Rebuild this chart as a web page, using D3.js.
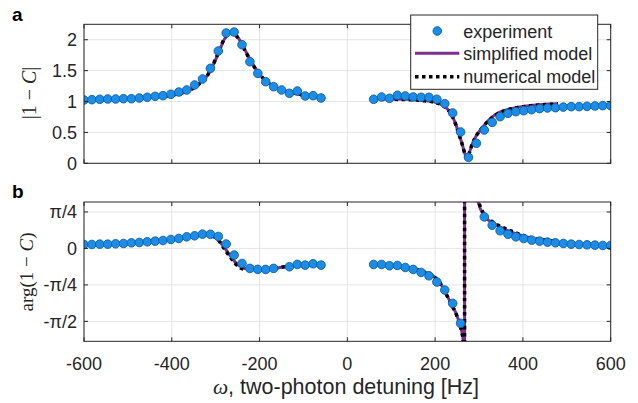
<!DOCTYPE html>
<html>
<head>
<meta charset="utf-8">
<script src="https://cdn.jsdelivr.net/npm/d3@7"></script>
<style>
  body { margin: 0; background: #fff; }
  svg { display: block; }
  text { font-family: "Liberation Sans", Arial, sans-serif; fill: #262626; }
</style>
</head>
<body>
<div id="main"></div>
<script>
// measured detunings (Hz)
const freqLeft = [-600, -582, -564, -546, -528, -510, -492, -474, -456, -438, -420, -402, -384, -366, -348, -330,
  -312, -294, -276, -258, -240, -222, -204, -186, -168, -150, -132, -114, -96, -78, -60];
const freqRight = [60, 78, 96, 114, 132, 150, 168, 186, 204, 222, 240, 258, 276, 294, 312, 330,
  348, 366, 384, 402, 420, 438, 456, 474, 492, 510, 528, 546, 564, 582, 600];

// |1 - C| experiment
const absLeft = [1.025, 1.030, 1.036, 1.041, 1.041, 1.046, 1.046, 1.057, 1.068, 1.084, 1.095, 1.117, 1.154, 1.187, 1.268, 1.365,
  1.537, 1.818, 2.109, 2.125, 1.920, 1.645, 1.456, 1.321, 1.240, 1.187, 1.133, 1.170, 1.090, 1.095, 1.057];
const absRight = [1.036, 1.073, 1.052, 1.100, 1.090, 1.073, 1.068, 1.068, 1.036, 0.965, 0.814, 0.507, 0.097, 0.324, 0.539, 0.663,
  0.755, 0.809, 0.836, 0.852, 0.868, 0.885, 0.895, 0.900, 0.910, 0.917, 0.917, 0.922, 0.928, 0.933, 0.933];

// arg(1 - C) experiment (rad), null = outside the plotted range
const argLeft = [0.085, 0.085, 0.092, 0.092, 0.100, 0.107, 0.121, 0.128, 0.143, 0.157, 0.171, 0.193, 0.214, 0.250, 0.272, 0.308,
  0.305, 0.258, 0.095, -0.144, -0.323, -0.430, -0.452, -0.452, -0.430, null, -0.395, -0.344, -0.359, -0.330, -0.359];
const argRight = [-0.345, -0.345, -0.373, -0.366, -0.410, -0.452, -0.517, -0.589, -0.724, -0.896, -1.183, -1.613, null, null, 0.680, 0.500,
  0.380, 0.307, 0.250, 0.214, 0.179, 0.157, 0.136, 0.121, 0.107, 0.092, 0.085, 0.078, 0.071, 0.064, 0.064];

// model curves
const modAbsFreqL = [-480, -440, -400, -370, -340, -320, -300, -290, -280, -270, -262, -255, -245, -235, -220, -200, -180, -160, -140, -120, -100, -80, -60];
const simpleAbsL = [1.06, 1.075, 1.10, 1.15, 1.27, 1.41, 1.68, 1.85, 2.01, 2.10, 2.12, 2.09, 1.99, 1.86, 1.66, 1.44, 1.30, 1.22, 1.16, 1.13, 1.10, 1.08, 1.07];
const numericAbsL = [1.06, 1.075, 1.10, 1.15, 1.27, 1.41, 1.69, 1.86, 2.02, 2.10, 2.12, 2.08, 1.98, 1.85, 1.65, 1.44, 1.30, 1.22, 1.165, 1.135, 1.105, 1.085, 1.075];
const modAbsFreqR = [60, 100, 140, 170, 200, 215, 228, 238, 246, 254, 262, 268, 272, 276, 282, 290, 300, 310, 325, 345, 370, 400, 430, 460, 480];
const simpleAbsR = [1.04, 1.04, 1.035, 1.02, 0.99, 0.95, 0.88, 0.78, 0.65, 0.48, 0.30, 0.15, 0.08, 0.13, 0.26, 0.40, 0.51, 0.60, 0.72, 0.82, 0.88, 0.92, 0.945, 0.96, 0.965];
const numericAbsR = [1.035, 1.035, 1.03, 1.015, 0.985, 0.945, 0.875, 0.775, 0.645, 0.475, 0.30, 0.15, 0.08, 0.13, 0.26, 0.40, 0.51, 0.60, 0.71, 0.81, 0.875, 0.915, 0.94, 0.955, 0.96];

const modArgFreqL = [-480, -440, -400, -370, -340, -320, -305, -295, -285, -275, -265, -255, -245, -235, -220, -200, -180, -160, -140, -120, -100, -80, -60];
const simpleArgL = [0.14, 0.165, 0.19, 0.23, 0.28, 0.30, 0.27, 0.20, 0.08, -0.05, -0.18, -0.30, -0.38, -0.43, -0.45, -0.46, -0.45, -0.42, -0.39, -0.37, -0.355, -0.35, -0.35];
const numericArgL = [0.14, 0.165, 0.19, 0.23, 0.28, 0.30, 0.26, 0.19, 0.06, -0.08, -0.21, -0.33, -0.41, -0.45, -0.46, -0.46, -0.45, -0.42, -0.39, -0.37, -0.355, -0.35, -0.35];
const modArgFreqR = [60, 100, 140, 170, 190, 210, 226, 240, 249, 256, 261, 264, 266, 267, 267.2, 275, 283, 290, 298, 310, 333, 359, 380, 400, 430, 460, 480];
const simpleArgR = [-0.33, -0.36, -0.42, -0.49, -0.56, -0.72, -1.0, -1.25, -1.43, -1.62, -1.8, -2.0, -2.6, -3.14, 3.14, 2.4, 1.8, 1.4, 1.0, 0.72, 0.54, 0.41, 0.33, 0.27, 0.20, 0.16, 0.14];
const numericArgR = [-0.33, -0.36, -0.42, -0.49, -0.57, -0.73, -1.0, -1.26, -1.44, -1.63, -1.82, -2.0, -2.6, -3.14, 3.14, 2.5, 1.9, 1.5, 1.06, 0.76, 0.56, 0.43, 0.35, 0.28, 0.21, 0.17, 0.15];

const xTicks = [-600, -400, -200, 0, 200, 400, 600];
const absTicks = [0, 0.5, 1, 1.5, 2];
const argTicks = [-Math.PI / 2, -Math.PI / 4, 0, Math.PI / 4];
const argTickLabels = ["-π/2", "-π/4", "0", "π/4"];

const width = 638, height = 403;
const svg = d3.select("#main").append("svg").attr("width", width).attr("height", height);

const x = d3.scaleLinear().domain([-600, 600]).range([84, 610.7]);
const yTop = d3.scaleLinear().domain([0, 2.25]).range([163.3, 24.3]);
const yBot = d3.scaleLinear().domain([-2, 1]).range([341.3, 202]);

const purple = "#7e2f8e", blue = "#1b8de6", blueEdge = "#0f5fa6", ink = "#262626";

function zip(xs, ys) { return xs.map((v, i) => [v, ys[i]]); }

function panel(y, yTicks, yLabels, id, series, showXLabels) {
  const [x0, x1] = x.range(), [yb, yt] = y.range();
  const g = svg.append("g");

  g.append("clipPath").attr("id", id).append("rect")
    .attr("x", x0).attr("y", yt).attr("width", x1 - x0).attr("height", yb - yt);

  // grid
  g.selectAll(".gx").data(xTicks).enter().append("line")
    .attr("x1", d => x(d)).attr("x2", d => x(d)).attr("y1", yt).attr("y2", yb)
    .style("stroke", "#dedede").style("stroke-width", 0.8);
  g.selectAll(".gy").data(yTicks).enter().append("line")
    .attr("x1", x0).attr("x2", x1).attr("y1", d => y(d)).attr("y2", d => y(d))
    .style("stroke", "#dedede").style("stroke-width", 0.8);

  const plot = g.append("g").attr("clip-path", `url(#${id})`);
  const line = d3.line().x(d => x(d[0])).y(d => y(d[1])).curve(d3.curveMonotoneX);

  series.simple.forEach(s => plot.append("path").attr("d", line(s))
    .style("fill", "none").style("stroke", purple).style("stroke-width", 3));
  series.numeric.forEach(s => plot.append("path").attr("d", line(s))
    .style("fill", "none").style("stroke", "#000").style("stroke-width", 3.5)
    .style("stroke-dasharray", "3.5,3.5"));

  const pts = series.points.flat().filter(d => d[1] != null);
  plot.selectAll("circle").data(pts).enter().append("circle")
    .attr("cx", d => x(d[0])).attr("cy", d => y(d[1])).attr("r", 4.3)
    .style("fill", blue).style("stroke", blueEdge).style("stroke-width", 0.9);

  // box and inward ticks
  g.append("rect").attr("x", x0).attr("y", yt).attr("width", x1 - x0).attr("height", yb - yt)
    .style("fill", "none").style("stroke", ink).style("stroke-width", 1);
  xTicks.forEach(t => {
    g.append("line").attr("x1", x(t)).attr("x2", x(t)).attr("y1", yb).attr("y2", yb - 4).style("stroke", ink);
    g.append("line").attr("x1", x(t)).attr("x2", x(t)).attr("y1", yt).attr("y2", yt + 4).style("stroke", ink);
  });
  yTicks.forEach((t, i) => {
    g.append("line").attr("x1", x0).attr("x2", x0 + 4).attr("y1", y(t)).attr("y2", y(t)).style("stroke", ink);
    g.append("line").attr("x1", x1).attr("x2", x1 - 4).attr("y1", y(t)).attr("y2", y(t)).style("stroke", ink);
    g.append("text").attr("x", x0 - 7).attr("y", y(t) + 6.5).attr("text-anchor", "end")
      .style("font-size", "18px").text(yLabels[i]);
  });
  if (showXLabels) {
    xTicks.forEach(t => g.append("text").attr("x", x(t)).attr("y", yb + 29).attr("text-anchor", "middle")
      .style("font-size", "18px").text(t));
  }
}

panel(yTop, absTicks, absTicks.map(String), "clipTop", {
  simple: [zip(modAbsFreqL, simpleAbsL), zip(modAbsFreqR, simpleAbsR)],
  numeric: [zip(modAbsFreqL, numericAbsL), zip(modAbsFreqR, numericAbsR)],
  points: [zip(freqLeft, absLeft), zip(freqRight, absRight)]
}, false);

panel(yBot, argTicks, argTickLabels, "clipBot", {
  simple: [zip(modArgFreqL, simpleArgL), zip(modArgFreqR, simpleArgR)],
  numeric: [zip(modArgFreqL, numericArgL), zip(modArgFreqR, numericArgR)],
  points: [zip(freqLeft, argLeft), zip(freqRight, argRight)]
}, true);

// panel letters
svg.append("text").attr("x", 12).attr("y", 21).style("font-size", "19px").style("font-weight", "bold").style("fill", "#000").text("a");
svg.append("text").attr("x", 12).attr("y", 198).style("font-size", "19px").style("font-weight", "bold").style("fill", "#000").text("b");

// y labels (serif, TeX-like)
const serif = "'Liberation Serif', 'DejaVu Serif', serif";
const yl1 = svg.append("text").attr("transform", "translate(36,93) rotate(-90)").attr("text-anchor", "middle")
  .style("font-family", serif).style("font-size", "20px");
yl1.append("tspan").text("|1 − ");
yl1.append("tspan").style("font-style", "italic").text("C");
yl1.append("tspan").text("|");

const yl2 = svg.append("text").attr("transform", "translate(33,272) rotate(-90)").attr("text-anchor", "middle")
  .style("font-family", serif).style("font-size", "19px");
yl2.append("tspan").text("arg(1 − ");
yl2.append("tspan").style("font-style", "italic").text("C");
yl2.append("tspan").text(")");

// x label
const xl = svg.append("text").attr("x", 346).attr("y", 394).attr("text-anchor", "middle").style("font-size", "21.5px");
xl.append("tspan").style("font-family", serif).style("font-style", "italic").text("ω");
xl.append("tspan").text(", two-photon detuning [Hz]");

// legend
const lg = svg.append("g");
lg.append("rect").attr("x", 410.7).attr("y", 15).attr("width", 187).attr("height", 74.3)
  .style("fill", "#fff").style("stroke", ink).style("stroke-width", 1);
lg.append("circle").attr("cx", 437.3).attr("cy", 31).attr("r", 4.3)
  .style("fill", blue).style("stroke", blueEdge).style("stroke-width", 0.9);
lg.append("line").attr("x1", 415).attr("x2", 459.3).attr("y1", 53.3).attr("y2", 53.3)
  .style("stroke", purple).style("stroke-width", 3);
lg.append("line").attr("x1", 415).attr("x2", 459.3).attr("y1", 76.7).attr("y2", 76.7)
  .style("stroke", "#000").style("stroke-width", 3.5).style("stroke-dasharray", "3.5,3.5");
[["experiment", 31], ["simplified model", 53.3], ["numerical model", 76.7]].forEach(([t, yy]) =>
  lg.append("text").attr("x", 463.3).attr("y", yy + 6.5).style("font-size", "18px").text(t));
</script>
</body>
</html>
